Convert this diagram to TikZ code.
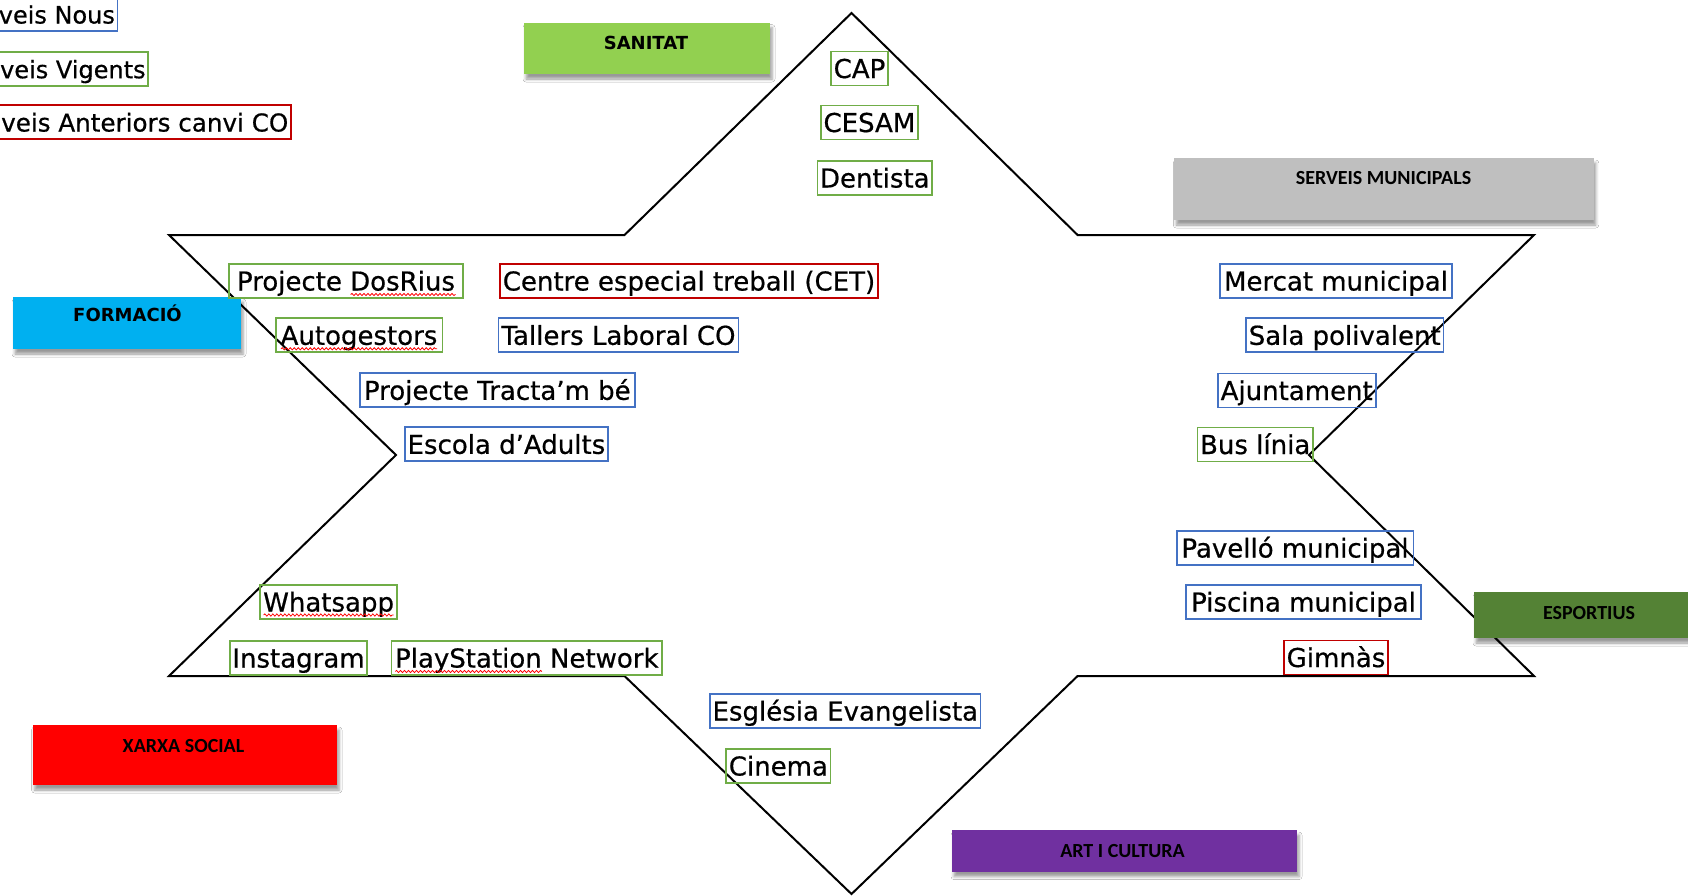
\documentclass[tikz,border=0pt]{standalone}
\usepackage{fontspec}
\newfontfamily\itemfont{DejaVu Sans}[FakeBold=0.6]
\newfontfamily\headfont{DejaVu Sans}
\newfontfamily\catfont{Carlito}
\usetikzlibrary{shadows.blur,decorations.pathmorphing}

\definecolor{itblue}{HTML}{4472C4}
\definecolor{itgreen}{HTML}{70AD47}
\definecolor{itred}{HTML}{C00000}
\definecolor{sanitatc}{HTML}{92D050}
\definecolor{serveisc}{HTML}{BFBFBF}
\definecolor{formacioc}{HTML}{00B0F0}
\definecolor{xarxac}{HTML}{FF0000}
\definecolor{artc}{HTML}{7030A0}
\definecolor{esportc}{HTML}{548235}

\tikzset{
  item/.style={draw, line width=1.8pt, inner xsep=2.5pt, inner ysep=4pt,
    text height=22.5pt, text depth=3.5pt, minimum height=34pt,
    font=\itemfont\fontsize{26}{30}\selectfont},
  nou/.style={item, draw=itblue},
  vigent/.style={item, draw=itgreen},
  anterior/.style={item, draw=itred},
  legendsize/.style={font=\itemfont\fontsize{#1}{30}\selectfont},
  catbox/.style={draw=none, inner sep=0pt,
    blur shadow={shadow xshift=2pt, shadow yshift=-5pt,
      shadow blur radius=3pt, shadow opacity=40}},
  cattext/.style={inner sep=0pt, anchor=base, font=\catfont\bfseries\fontsize{20}{24}\selectfont},
  cattextb/.style={inner sep=0pt, anchor=base, font=\headfont\bfseries\fontsize{18}{22}\selectfont},
  squiggle/.style={draw=red, line width=0.8pt, decorate,
    decoration={snake, segment length=4pt, amplitude=1.1pt}},
  outline/.style={draw=black, line width=2pt, line join=miter},
}

\begin{document}
\begin{tikzpicture}[x=1pt, y=-1pt]
\useasboundingbox (0,0) rectangle (1688,895);
\fill[white] (0,0) rectangle (1688,895);
\clip (0,0) rectangle (1688,895);

% six-pointed star outline
\draw[outline] (169,235) -- (624.5,235) -- (851.5,13) -- (1077.6,235)
  -- (1534,235) -- (1309,455) -- (1534,676) -- (1077.6,676)
  -- (851.5,894) -- (624.5,676) -- (169,676) -- (396,455) -- cycle;

% legend
\node[nou, legendsize=24, anchor=east] (lnous) at (118.3,14) {veis Nous};
\node[vigent, legendsize=24, anchor=east] (lvigents) at (149,68.7) {veis Vigents};
\node[anterior, legendsize=24.6, anchor=east] (lanteriors) at (291.7,122) {veis Anteriors canvi CO};

% category boxes
\node[catbox, fill=sanitatc, minimum width=246pt, minimum height=51.4pt] (sanitat) at (647,48.3) {};
\node[cattextb] (sanitatt) at (646,49.6) {SANITAT};

\node[catbox, fill=serveisc, minimum width=419.5pt, minimum height=62pt] (serveis) at (1384,189) {};
\node[cattext] (serveist) at (1383.5,184) {SERVEIS MUNICIPALS};

\node[catbox, fill=formacioc, minimum width=228pt, minimum height=52pt] (formacio) at (127,323) {};
\node[cattextb] (formaciot) at (127.5,321.6) {FORMACIÓ};

\node[catbox, fill=xarxac, minimum width=304.4pt, minimum height=60pt] (xarxa) at (184.8,755) {};
\node[cattext] (xarxat) at (183.5,752.4) {XARXA SOCIAL};

\node[catbox, fill=artc, minimum width=345pt, minimum height=41.5pt] (art) at (1124.5,850.8) {};
\node[cattext] (artt) at (1122.5,857.4) {ART I CULTURA};

\node[catbox, fill=esportc, minimum width=226pt, minimum height=46.3pt] (esport) at (1587,614.85) {};
\node[cattext] (esportt) at (1589,619) {ESPORTIUS};

% health
\node[vigent, minimum width=57.3pt] (cap) at (859.5,68.5) {CAP};
\node[vigent, minimum width=97.3pt] (cesam) at (869.4,122.5) {CESAM};
\node[vigent, minimum width=114.3pt] (dentista) at (874.8,178) {Dentista};

% training
\node[vigent, minimum width=233.6pt] (dosrius) at (346,281) {Projecte DosRius};
\node[anterior, minimum width=370.2pt] (cet) at (689,281) {Centre especial treball (CET)};
\node[vigent, minimum width=166.8pt] (autog) at (359,335.3) {Autogestors};
\node[nou, minimum width=240.1pt] (tallers) at (618.5,335.3) {Tallers Laboral CO};
\node[nou, minimum width=275.4pt] (tractam) at (497.3,390.3) {Projecte Tracta’m bé};
\node[nou, minimum width=201.2pt] (escola) at (506.4,444.3) {Escola d’Adults};

% municipal services
\node[nou, minimum width=231.7pt] (mercat) at (1336,281) {Mercat municipal};
\node[nou, minimum width=197.4pt] (sala) at (1344.7,335.3) {Sala polivalent};
\node[nou, minimum width=158.2pt] (ajunt) at (1296.7,390.5) {Ajuntament};
\node[vigent, minimum width=115.6pt] (bus) at (1255.2,444.5) {Bus línia};

% sport
\node[nou, minimum width=236.8pt] (pavello) at (1295,548) {Pavelló municipal};
\node[nou, minimum width=235pt] (piscina) at (1303.5,602) {Piscina municipal};
\node[anterior, minimum width=104.7pt] (gimnas) at (1336,657.5) {Gimnàs};

% social network
\node[vigent, minimum width=137.5pt] (whats) at (328.6,602) {Whatsapp};
\node[vigent, minimum width=137pt] (insta) at (298.5,658) {Instagram};
\node[vigent, minimum width=270.5pt] (psn) at (526.8,658) {PlayStation Network};

% art and culture
\node[nou, minimum width=268.6pt] (esglesia) at (845.3,711) {Església Evangelista};
\node[vigent, minimum width=103.7pt] (cinema) at (778.4,766) {Cinema};

% spelling marks
\draw[squiggle] ([xshift=4.7pt, yshift=-4pt]dosrius.base) -- ([xshift=109.5pt, yshift=-4pt]dosrius.base);
\draw[squiggle] ([xshift=-78pt, yshift=-4pt]autog.base) -- ([xshift=78pt, yshift=-4pt]autog.base);
\draw[squiggle] ([xshift=-65pt, yshift=-3.5pt]whats.base) -- ([xshift=65pt, yshift=-3.5pt]whats.base);
\draw[squiggle] ([xshift=-131.5pt, yshift=-4pt]psn.base) -- ([xshift=15pt, yshift=-4pt]psn.base);
\end{tikzpicture}
\end{document}
